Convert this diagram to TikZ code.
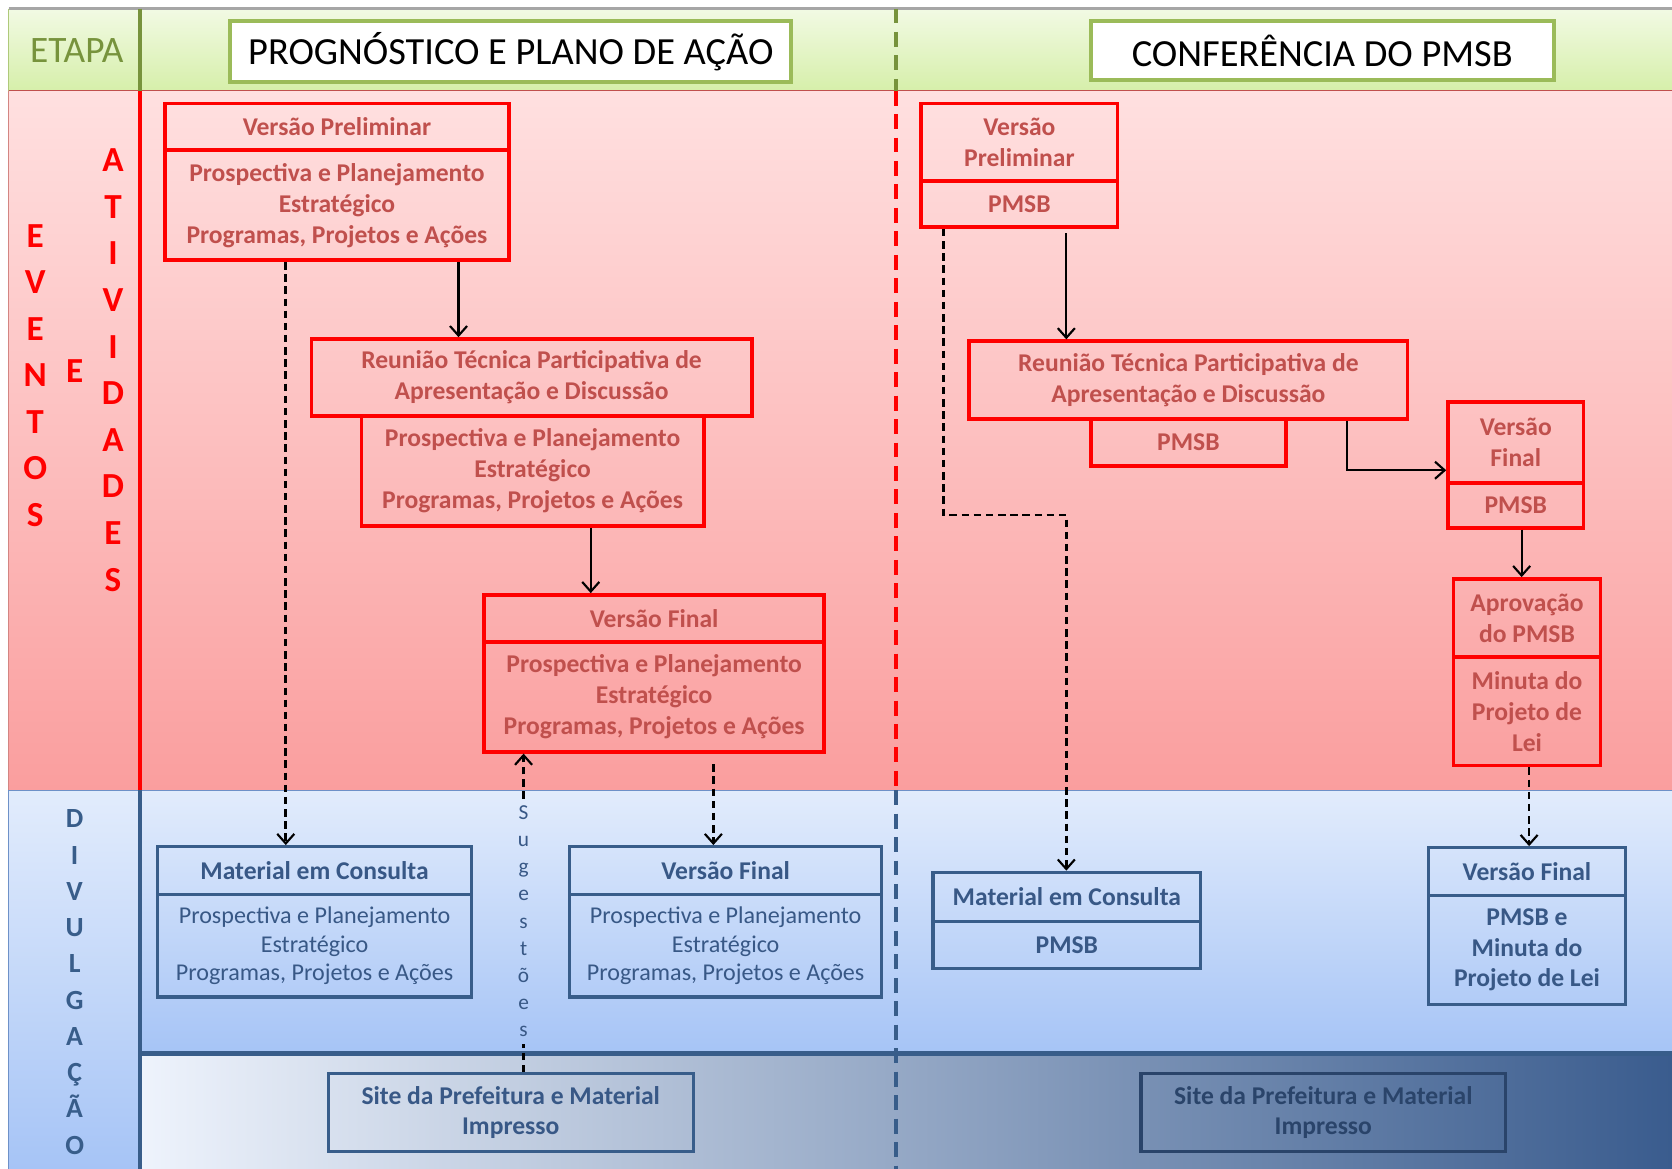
\documentclass[tikz,border=0pt]{standalone}
\usepackage{fontspec}
\setmainfont{Carlito}
\usetikzlibrary{arrows.meta,calc}
\definecolor{hdrTop}{RGB}{242,250,228}
\definecolor{hdrBot}{RGB}{214,239,170}
\definecolor{pinkTop}{RGB}{255,224,224}
\definecolor{pinkBot}{RGB}{250,158,158}
\definecolor{bluTop}{RGB}{226,236,252}
\definecolor{bluBot}{RGB}{166,196,246}
\definecolor{stripL}{RGB}{238,243,252}
\definecolor{stripM}{RGB}{160,182,222}
\definecolor{stripR}{RGB}{58,92,142}
\definecolor{etapaGreen}{RGB}{119,147,60}
\definecolor{hdrGreen}{RGB}{155,187,89}
\definecolor{boxRed}{RGB}{255,0,0}
\definecolor{redTxt}{RGB}{192,80,77}
\definecolor{boxBlue}{RGB}{56,93,138}
\definecolor{bluTxt}{RGB}{56,88,134}
\definecolor{darkBlue}{RGB}{42,68,106}
\definecolor{edgeRed}{RGB}{192,80,77}
\definecolor{edgeBlue}{RGB}{110,145,200}
\newcommand{\boxat}[7]{%
  \pgfmathsetmacro{\bw}{(#5-#3)*0.5}%
  \pgfmathsetmacro{\bh}{(#6-#4)*0.5}%
  \node[#1, minimum width=\bw pt, minimum height=\bh pt] (#2) at ({(#3+#5)/2},{(#4+#6)/2}) {#7};}
\begin{document}
\begin{tikzpicture}[x=0.5pt,y=-0.5pt,
  redbox/.style={draw=boxRed, line width=1.75pt, text=redTxt, align=center, inner sep=0pt,
    font=\bfseries\fontsize{12}{14.5}\selectfont},
  bluebox/.style={draw=boxBlue, line width=1.5pt, text=bluTxt, align=center, inner sep=0pt,
    font=\bfseries\fontsize{12}{14.3}\selectfont},
  bluebody/.style={bluebox, font=\fontsize{11.3}{13.3}\selectfont},
  darkbox/.style={bluebox, draw=darkBlue, text=darkBlue},
  hdrbox/.style={draw=hdrGreen, line width=1.75pt, fill=white, inner sep=0pt,
    font=\fontsize{18}{20}\selectfont},
  vletters/.style={align=center, inner sep=0pt},
  conn/.style={line width=1pt, -{Straight Barb[length=4.5pt,width=8pt,line width=1pt]}},
  dconn/.style={conn, line width=1.2pt, dash pattern=on 3.5pt off 2.2pt},
  dplain/.style={line width=1.2pt, dash pattern=on 3.5pt off 2.2pt},
  sep/.style={line width=2pt},
  midsep/.style={line width=2pt, dash pattern=on 7pt off 4pt}
]
\useasboundingbox (0,0) rectangle (1568,1096);
\fill[white] (0,0) rectangle (1568,1096);
% backgrounds
\shade[top color=hdrTop, bottom color=hdrBot] (8,8) rectangle (1568,85);
\shade[top color=pinkTop, bottom color=pinkBot] (8,85) rectangle (1568,741);
\shade[top color=bluTop, bottom color=bluBot] (8,741) rectangle (131,1096);
\shade[top color=bluTop, bottom color=bluBot] (131,741) rectangle (1568,988);
\shade[left color=stripL, middle color=stripM, right color=stripR] (131,988) rectangle (1568,1096);
% frame lines
\draw[gray!70, line width=1.5pt] (8,8) -- (1568,8);
\draw[hdrGreen!80, line width=0.8pt] (8,8) -- (8,85);
\draw[edgeRed, line width=0.6pt] (8,85) -- (1568,85);
\draw[edgeRed!70, line width=0.8pt] (8,85) -- (8,741);
\draw[edgeBlue, line width=0.6pt] (8,741) -- (1568,741);
\draw[edgeBlue, line width=0.8pt] (8,741) -- (8,1096);
\draw[sep, etapaGreen] (131,8) -- (131,85);
\draw[sep, boxRed] (131,85) -- (131,741);
\draw[sep, boxBlue] (131,741) -- (131,1096);
\draw[boxBlue, line width=2.5pt] (131,988) -- (1568,988);
\draw[midsep, etapaGreen] (840,8) -- (840,85);
\draw[midsep, boxRed] (840,85) -- (840,741);
\draw[midsep, boxBlue] (840,741) -- (840,1096);
% header
\node[text=etapaGreen, font=\fontsize{17.5}{20}\selectfont, inner sep=0pt] (etapa) at (72,47) {ETAPA};
\boxat{hdrbox}{hdr1}{216}{20}{742}{77}{PROGNÓSTICO E PLANO DE AÇÃO}
\boxat{hdrbox}{hdr2}{1023}{20}{1457}{75}{CONFERÊNCIA DO PMSB}
% side labels
\node[vletters, text=boxRed, font=\bfseries\fontsize{16.5}{21.8}\selectfont] (eventos) at (33,352) {E\\V\\E\\N\\T\\O\\S};
\node[vletters, text=boxRed, font=\bfseries\fontsize{16.5}{21.8}\selectfont] (elabel) at (70,348) {E};
\node[vletters, text=boxRed, font=\bfseries\fontsize{16.5}{21.85}\selectfont] (ativ) at (106,347) {A\\T\\I\\V\\I\\D\\A\\D\\E\\S};
\node[vletters, text=boxBlue, font=\bfseries\fontsize{13}{17}\selectfont] (divul) at (70,921) {D\\I\\V\\U\\L\\G\\A\\Ç\\Ã\\O};
% left red boxes
\boxat{redbox}{p1h}{155}{97}{477}{141}{Versão Preliminar}
\boxat{redbox}{p1b}{155}{141}{477}{244}{Prospectiva e Planejamento\\Estratégico\\Programas, Projetos e Ações}
\boxat{redbox}{r2h}{292}{318}{705}{390}{Reunião Técnica Participativa de\\Apresentação e Discussão}
\boxat{redbox}{r2b}{339}{390}{660}{493}{Prospectiva e Planejamento\\Estratégico\\Programas, Projetos e Ações}
\boxat{redbox}{f3h}{454}{558}{773}{602}{Versão Final}
\boxat{redbox}{f3b}{454}{602}{773}{705}{Prospectiva e Planejamento\\Estratégico\\Programas, Projetos e Ações}
% right red boxes
\boxat{redbox}{rp1h}{864}{97}{1048}{170}{Versão\\Preliminar}
\boxat{redbox}{rp1b}{864}{170}{1048}{213}{PMSB}
\boxat{redbox}{rr2h}{909}{320}{1320}{393}{Reunião Técnica Participativa de\\Apresentação e Discussão}
\boxat{redbox}{rr2b}{1023}{393}{1206}{437}{PMSB}
\boxat{redbox}{rf3h}{1358}{377}{1485}{453}{Versão\\Final}
\boxat{redbox}{rf3b}{1358}{453}{1485}{495}{PMSB}
\boxat{redbox}{rap}{1363}{543}{1501}{616}{Aprovação\\do PMSB}
\boxat{redbox}{rmi}{1363}{616}{1501}{718}{Minuta do\\Projeto de\\Lei}
% blue boxes
\boxat{bluebox}{b1h}{148}{794}{442}{839}{Material em Consulta}
\boxat{bluebody}{b1b}{148}{839}{442}{935}{Prospectiva e Planejamento\\Estratégico\\Programas, Projetos e Ações}
\boxat{bluebox}{b2h}{534}{794}{827}{839}{Versão Final}
\boxat{bluebody}{b2b}{534}{839}{827}{935}{Prospectiva e Planejamento\\Estratégico\\Programas, Projetos e Ações}
\boxat{bluebox}{b3h}{875}{818}{1126}{864}{Material em Consulta}
\boxat{bluebox}{b3b}{875}{864}{1126}{908}{PMSB}
\boxat{bluebox}{b4h}{1340}{795}{1524}{840}{Versão Final}
\boxat{bluebox}{b4b}{1340}{840}{1524}{942}{PMSB e\\Minuta do\\Projeto de Lei}
\boxat{bluebox}{site1}{308}{1007}{650}{1080}{Site da Prefeitura e Material\\Impresso}
\boxat{darkbox}{site2}{1070}{1007}{1412}{1080}{Site da Prefeitura e Material\\Impresso}
% sugestoes label
\node[vletters, text=bluTxt, font=\fontsize{10}{12.75}\selectfont, inner sep=3pt] (sug) at (491,864) {S\\u\\g\\e\\s\\t\\õ\\e\\s};
% guide coordinates
\coordinate (xa) at (268,0);
\coordinate (xb) at (430,0);
\coordinate (xc) at (554,0);
\coordinate (xd) at (491,0);
\coordinate (xe) at (669,0);
\coordinate (xf) at (885,0);
\coordinate (xg) at (1000,0);
\coordinate (xh) at (1263,0);
\coordinate (xi) at (1427,0);
\coordinate (xj) at (1434,0);
\coordinate (bendR) at (1000,483);
\coordinate (yi) at (0,441);
% connectors left
\draw[dconn] (p1b.south -| xa) -- (b1h.north -| xa);
\draw[conn] (p1b.south -| xb) -- (r2h.north -| xb);
\draw[conn] (r2b.south -| xc) -- (f3h.north -| xc);
\draw[dplain] (site1.north -| xd) -- (sug.south);
\draw[dconn] (sug.north) -- (f3b.south -| xd);
\draw[dconn] ([yshift=-5pt]f3b.south -| xe) -- (b2h.north -| xe);
% connectors right
\draw[dconn] (rp1b.south -| xf) |- (bendR) -- (b3h.north -| xg);
\draw[conn] ([yshift=-2pt]rp1b.south -| xg) -- (rr2h.north -| xg);
\draw[conn] (rr2h.south -| xh) |- (rf3h.west |- yi);
\draw[conn] (rf3b.south -| xi) -- (rap.north -| xi);
\draw[dconn] (rmi.south -| xj) -- (b4h.north -| xj);
\end{tikzpicture}
\end{document}
